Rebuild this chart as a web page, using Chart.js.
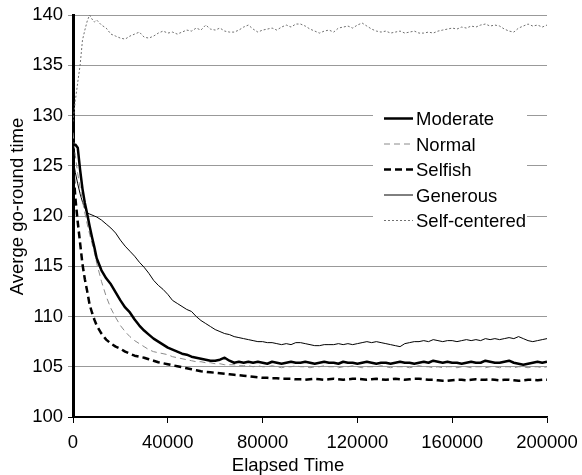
<!DOCTYPE html>
<html><head><meta charset="utf-8">
<script src="https://cdn.jsdelivr.net/npm/chart.js@4"></script>
<style>html,body{margin:0;padding:0;background:#fff}canvas{display:block}</style>
</head><body>
<canvas id="c" width="582" height="475"></canvas>
<script>
const elapsedTime = [0,1000,2000,3000,4000,5000,6000,7000,8000,9000,10000,
12000,14000,16000,18000,20000,22000,24000,26000,28000,30000,
32000,34000,36000,38000,40000,42000,44000,46000,48000,50000,
52000,54000,56000,58000,60000,62000,64000,66000,68000,70000,
72000,74000,76000,78000,80000,82000,84000,86000,88000,90000,
92000,94000,96000,98000,100000,102000,104000,106000,108000,110000,
112000,114000,116000,118000,120000,122000,124000,126000,128000,130000,
132000,134000,136000,138000,140000,142000,144000,146000,148000,150000,
152000,154000,156000,158000,160000,162000,164000,166000,168000,170000,
172000,174000,176000,178000,180000,182000,184000,186000,188000,190000,
192000,194000,196000,198000,200000];

const moderate = [127.1,127.1,126.8,124.6,122.7,121.3,120.2,119.0,117.9,116.9,115.8,
114.6,113.8,113.2,112.4,111.6,110.9,110.4,109.7,109.1,108.6,
108.2,107.8,107.5,107.2,106.9,106.7,106.5,106.3,106.2,106.0,
105.9,105.8,105.7,105.6,105.6,105.7,105.9,105.6,105.4,105.5,
105.4,105.5,105.4,105.5,105.4,105.3,105.5,105.4,105.3,105.4,
105.5,105.4,105.4,105.5,105.4,105.3,105.4,105.5,105.4,105.4,
105.3,105.5,105.4,105.4,105.3,105.4,105.5,105.4,105.3,105.4,
105.4,105.3,105.4,105.5,105.4,105.4,105.3,105.4,105.5,105.4,
105.6,105.5,105.4,105.5,105.4,105.4,105.3,105.4,105.5,105.4,
105.4,105.6,105.5,105.4,105.4,105.5,105.6,105.4,105.3,105.2,
105.3,105.4,105.5,105.4,105.5];

const normal = [128.3,126.0,124.2,122.8,121.5,120.3,119.2,118.2,117.3,116.4,115.3,
113.5,112.0,110.8,109.9,109.1,108.5,108.0,107.6,107.3,107.0,
106.7,106.5,106.4,106.3,106.2,106.0,105.9,105.8,105.7,105.6,
105.5,105.5,105.4,105.4,105.3,105.3,105.2,105.2,105.2,105.1,
105.1,105.1,105.0,105.1,105.0,105.0,105.1,105.0,104.9,105.0,
105.0,105.1,105.0,105.0,104.9,105.0,105.0,105.1,105.0,105.0,
104.9,105.0,105.0,105.1,105.0,104.9,105.0,105.0,105.0,105.1,
105.0,104.9,105.0,105.0,105.0,104.9,105.0,105.1,105.0,105.0,
104.9,105.0,104.9,105.0,105.0,104.9,105.0,105.0,104.9,105.0,
105.0,104.9,105.0,105.0,104.9,105.0,105.0,104.9,105.0,105.0,
104.9,105.0,105.0,104.9,105.0];

const selfish = [125.0,121.8,119.4,117.3,115.2,113.7,112.5,111.2,110.4,109.7,109.1,
108.3,107.7,107.3,107.0,106.8,106.5,106.3,106.1,106.0,105.9,
105.75,105.6,105.45,105.35,105.25,105.15,105.05,104.95,104.85,104.75,
104.65,104.55,104.5,104.45,104.4,104.35,104.3,104.25,104.2,104.15,
104.1,104.05,104.0,103.95,103.9,103.9,103.85,103.85,103.8,103.8,
103.8,103.75,103.75,103.7,103.75,103.8,103.75,103.7,103.75,103.8,
103.75,103.7,103.75,103.8,103.8,103.75,103.7,103.75,103.8,103.75,
103.7,103.75,103.8,103.75,103.7,103.75,103.8,103.8,103.75,103.7,
103.7,103.65,103.6,103.6,103.65,103.7,103.7,103.65,103.7,103.75,
103.7,103.7,103.75,103.7,103.65,103.7,103.7,103.65,103.6,103.65,
103.7,103.7,103.65,103.7,103.7];

const generous = [125.7,124.3,123.2,122.2,121.4,120.8,120.3,120.2,120.1,120.0,119.9,
119.6,119.2,118.8,118.3,117.6,117.0,116.5,116.0,115.4,114.9,
114.3,113.6,113.1,112.7,112.2,111.6,111.3,111.0,110.7,110.5,
110.0,109.6,109.3,109.0,108.7,108.5,108.3,108.2,108.0,107.9,
107.8,107.7,107.6,107.5,107.5,107.4,107.4,107.3,107.2,107.3,
107.2,107.4,107.4,107.3,107.2,107.1,107.1,107.2,107.2,107.2,
107.3,107.2,107.3,107.2,107.3,107.4,107.5,107.4,107.5,107.4,
107.3,107.2,107.1,107.0,107.3,107.4,107.5,107.5,107.6,107.5,
107.7,107.6,107.5,107.6,107.6,107.5,107.6,107.7,107.6,107.7,
107.6,107.8,107.7,107.8,107.7,107.8,107.9,107.8,108.0,107.8,
107.6,107.5,107.6,107.7,107.8];

const selfCentered = [129.4,131.5,133.3,135.0,137.5,138.5,139.4,140.0,139.6,139.3,139.5,
139.0,138.7,138.1,137.9,137.7,137.6,137.9,138.1,138.3,137.8,
137.7,137.9,138.2,138.4,138.2,138.3,138.1,138.3,138.5,138.4,
138.7,138.5,139.0,138.6,138.5,138.7,138.4,138.3,138.3,138.5,
138.8,139.0,138.6,138.3,138.5,138.6,138.7,138.5,138.8,139.0,
138.8,139.1,139.1,138.9,138.6,138.4,138.2,138.4,138.5,138.3,
138.7,138.8,138.9,138.7,139.0,139.2,138.9,138.6,138.4,138.3,
138.4,138.2,138.3,138.4,138.2,138.3,138.4,138.2,138.2,138.3,
138.2,138.4,138.5,138.6,138.7,138.6,138.8,138.7,138.9,138.8,
139.0,139.1,138.9,139.0,138.9,138.6,138.4,138.3,138.7,138.9,
139.1,138.9,139.0,138.8,139.0];

const seriesLabels = ['Moderate','Normal','Selfish','Generous','Self-centered'];
const xTickValues = [0,40000,80000,120000,160000,200000];
const yTickValues = [100,105,110,115,120,125,130,135,140];
const xTitle = 'Elapsed Time';
const yTitle = 'Averge go-round time';

const FONT = "'Liberation Sans', Arial, sans-serif";
const FSIZE = 18.5;

const styles = [
  {borderColor:'#000000', borderWidth:2.5, borderDash:[]},
  {borderColor:'#8a8a8a', borderWidth:1, borderDash:[6,4]},
  {borderColor:'#000000', borderWidth:2.5, borderDash:[7,4]},
  {borderColor:'#000000', borderWidth:1, borderDash:[]},
  {borderColor:'#707070', borderWidth:1, borderDash:[2,2]}
];
const seriesValues = [moderate, normal, selfish, generous, selfCentered];

const datasets = seriesValues.map((vals, i) => Object.assign({
  label: seriesLabels[i],
  data: vals.map((v, j) => ({x: elapsedTime[j], y: v})),
  pointRadius: 0, fill: false, tension: 0, borderJoinStyle: 'round'
}, styles[i]));

const legendPlugin = {
  id: 'inlegend',
  beforeDatasetsDraw(chart) {
    const ctx = chart.ctx, ca = chart.chartArea;
    ctx.save();
    ctx.fillStyle = '#ffffff';
    ctx.fillRect(ca.left + 300, ca.top + 82, 154, 150);
    ctx.restore();
  },
  afterDatasetsDraw(chart) {
    const ctx = chart.ctx, ca = chart.chartArea;
    ctx.save();
    ctx.font = FSIZE + 'px ' + FONT;
    ctx.textBaseline = 'middle';
    ctx.textAlign = 'left';
    chart.data.datasets.forEach((ds, i) => {
      const y = ca.top + 105 + i * 25.5;
      ctx.strokeStyle = ds.borderColor;
      ctx.lineWidth = ds.borderWidth;
      ctx.setLineDash(ds.borderDash || []);
      ctx.beginPath();
      ctx.moveTo(ca.left + 311, y - 1.5);
      ctx.lineTo(ca.left + 340, y - 1.5);
      ctx.stroke();
      ctx.setLineDash([]);
      ctx.fillStyle = '#000';
      ctx.fillText(ds.label, ca.left + 343, y);
    });
    ctx.restore();
  }
};

const titlePlugin = {
  id: 'titles',
  afterDraw(chart) {
    const ctx = chart.ctx, ca = chart.chartArea;
    ctx.save();
    ctx.font = FSIZE + 'px ' + FONT;
    ctx.fillStyle = '#000';
    ctx.textAlign = 'center';
    ctx.textBaseline = 'alphabetic';
    ctx.fillText(xTitle, ca.left + 215, ca.bottom + 54);
    ctx.translate(23, ca.top + 191.5);
    ctx.rotate(-Math.PI / 2);
    ctx.fillText(yTitle, 0, 0);
    ctx.restore();
  }
};

new Chart(document.getElementById('c'), {
  type: 'line',
  data: { datasets },
  options: {
    responsive: false,
    animation: false,
    devicePixelRatio: 1,
    layout: { padding: { top: 15, right: 35, bottom: 0, left: 0 } },
    plugins: { legend: { display: false }, tooltip: { enabled: false } },
    scales: {
      x: {
        type: 'linear', min: 0, max: 200000,
        afterBuildTicks: s => { s.ticks = xTickValues.map(v => ({value: v})); },
        afterFit: s => { s.height = 58; s.paddingRight = 0; s.paddingLeft = 0; },
        ticks: { font: {family: FONT, size: FSIZE}, color: '#000', padding: 9, maxRotation: 0, autoSkip: false, callback: v => String(v) },
        grid: { drawOnChartArea: false, tickLength: 6, color: '#000', lineWidth: 1 },
        border: { color: '#000', width: 1.5 }
      },
      y: {
        type: 'linear', min: 100, max: 140,
        afterBuildTicks: s => { s.ticks = yTickValues.map(v => ({value: v})); },
        afterFit: s => { s.width = 73; s.paddingTop = 0; s.paddingBottom = 0; },
        ticks: { font: {family: FONT, size: FSIZE}, color: '#000', padding: 5, callback: v => String(v) },
        grid: {
          color: c => (c.tick && c.tick.value === 100) ? '#000' : '#999',
          tickColor: c => (c.tick && c.tick.value === 100) ? '#000' : '#999',
          lineWidth: 1, tickLength: 5
        },
        border: { color: '#000', width: 3 }
      }
    }
  },
  plugins: [legendPlugin, titlePlugin]
});
</script>
</body></html>
